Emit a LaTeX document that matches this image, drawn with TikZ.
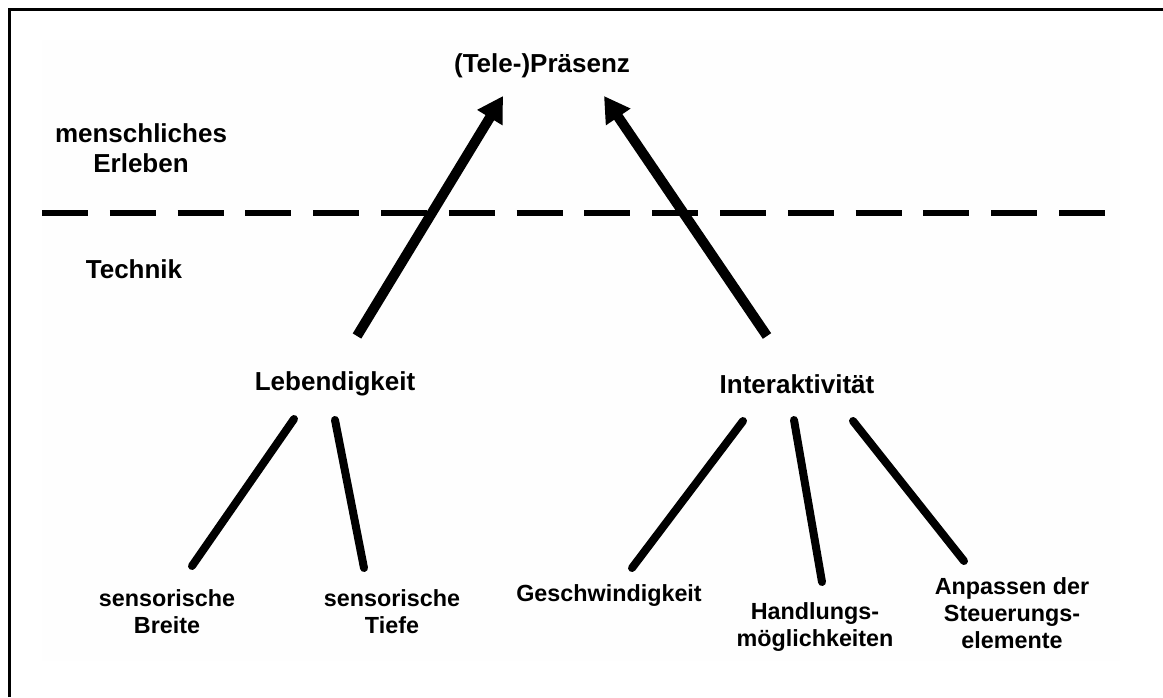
\documentclass[tikz,border=0pt]{standalone}
\usepackage{fontspec}
\setmainfont{Liberation Sans}
\usetikzlibrary{arrows.meta}
\definecolor{bgfaint}{RGB}{254,254,254}
\tikzset{
  mainlabel/.style={font=\bfseries\fontsize{19.5pt}{22.5pt}\selectfont, align=center, inner sep=0pt},
  sublabel/.style={font=\bfseries\fontsize{17.5pt}{20.25pt}\selectfont, align=center, inner sep=0pt},
  bigarrow/.style={line width=7.5pt, line cap=butt, -{Triangle[length=19pt,width=21pt]}},
  branch/.style={line width=6pt, line cap=round},
  divider/.style={line width=4.5pt, dash pattern=on 34.5pt off 16.35pt},
  frameline/.style={line width=2.6pt}
}
\begin{document}
\begin{tikzpicture}[x=0.75pt, y=-0.75pt]
\useasboundingbox (0,0) rectangle (1163,697);
\fill[bgfaint] (42,40) rectangle (1120,661);
% frame (top and left)
\draw[frameline] (9.5,697) -- (9.5,9.5) -- (1163,9.5);
% divider
\draw[divider] (42,213) -- (1106,213);
% labels
\node[mainlabel] (praesenz) at (542,66) {(Tele-)Präsenz};
\node[mainlabel] (erleben) at (141,148) {menschliches\\Erleben};
\node[mainlabel] (technik) at (134,269) {Technik};
\node[mainlabel] (leb) at (335,384) {Lebendigkeit};
\node[mainlabel] (inter) at (797,384) {Interaktivität};
\node[sublabel] (breite) at (167,612) {sensorische\\Breite};
\node[sublabel] (tiefe) at (392,612) {sensorische\\Tiefe};
\node[sublabel] (geschw) at (609,596) {Geschwindigkeit};
\node[sublabel] (handl) at (815,627) {Handlungs-\\möglichkeiten};
\node[sublabel] (anpass) at (1012,613) {Anpassen der\\Steuerungs-\\elemente};
% connector end points
\coordinate (la0) at (357,336);
\coordinate (la1) at (503,96);
\coordinate (ra0) at (767,336);
\coordinate (ra1) at (604,96);
\coordinate (lb1a) at (294,419);
\coordinate (lb1b) at (192,566);
\coordinate (lb2a) at (335,420);
\coordinate (lb2b) at (364,568);
\coordinate (ib1a) at (743,421);
\coordinate (ib1b) at (632,568);
\coordinate (ib2a) at (794,420);
\coordinate (ib2b) at (822,582);
\coordinate (ib3a) at (853,421);
\coordinate (ib3b) at (964,561);
% arrows
\draw[bigarrow] (la0) -- (la1);
\draw[bigarrow] (ra0) -- (ra1);
% branches
\draw[branch] (lb1a) -- (lb1b);
\draw[branch] (lb2a) -- (lb2b);
\draw[branch] (ib1a) -- (ib1b);
\draw[branch] (ib2a) -- (ib2b);
\draw[branch] (ib3a) -- (ib3b);
\end{tikzpicture}
\end{document}
